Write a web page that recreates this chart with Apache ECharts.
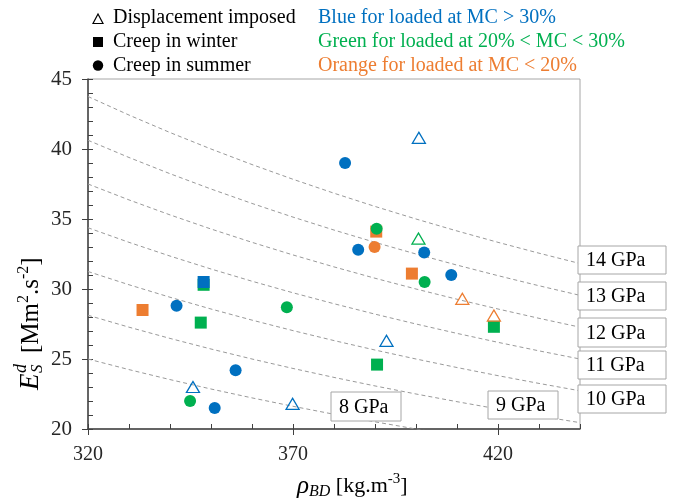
<!DOCTYPE html>
<html><head><meta charset="utf-8">
<script src="https://cdn.jsdelivr.net/npm/echarts@6/dist/echarts.min.js"></script>
<style>html,body{margin:0;padding:0;background:#fff}#c{width:676px;height:498px}</style>
</head><body><div id="c"></div>
<script>
// ---- axis ticks ----
const xTicks = [320, 370, 420];
const yTicks = [20, 25, 30, 35, 40, 45];
// ---- iso-stiffness curves (GPa) : E_S = E / rho ----
const stiffnessGPa = [8, 9, 10, 11, 12, 13, 14];
const curveRho = [320, 330, 340, 350, 360, 370, 380, 390, 400, 410, 420, 430, 440];
// ---- Displacement imposed (triangles) [rho, E_S] ----
const dispBlue = [[345.6, 23.0], [369.9, 21.8], [392.8, 26.3], [400.7, 40.8]];
const dispGreen = [[400.6, 33.6]];
const dispOrange = [[411.3, 29.3], [419.0, 28.1]];
// ---- Creep in winter (squares) ----
const winterGreen = [[347.5, 27.6], [348.2, 30.3], [390.5, 24.6], [419.0, 27.3]];
const winterOrange = [[333.3, 28.5], [399.0, 31.1], [390.3, 34.1]];
const winterBlue = [[348.2, 30.5]];
// ---- Creep in summer (circles) ----
const summerBlue = [[341.6, 28.8], [350.9, 21.5], [356.0, 24.2], [382.7, 39.0], [385.9, 32.8], [402.0, 32.6], [408.6, 31.0]];
const summerGreen = [[344.9, 22.0], [368.5, 28.7], [390.4, 34.3], [402.1, 30.5]];
const summerOrange = [[389.9, 33.0]];

const BLUE = '#0070C0', GREEN = '#00B050', ORANGE = '#ED7D31';
const FONT = 'Liberation Serif';
const AX = '#404040';

const chart = echarts.init(document.getElementById('c'), null, {renderer: 'canvas'});

const curveSeries = stiffnessGPa.map(E => ({
  type: 'line', name: E + ' GPa', silent: true, symbol: 'none', z: 1,
  lineStyle: {color: '#9a9a9a', width: 1, type: [4, 3]},
  data: curveRho.map(r => [r, E * 1000 / r])
}));

function sq(data, color) {
  return {type: 'scatter', symbol: 'rect', symbolSize: 12, z: 3, itemStyle: {color: color, opacity: 1}, data: data};
}
function ci(data, color) {
  return {type: 'scatter', symbol: 'circle', symbolSize: 12, z: 4, itemStyle: {color: color, opacity: 1}, data: data};
}
function tri(data, color) {
  return {type: 'scatter', symbol: 'triangle', symbolSize: [13, 11], z: 5,
    itemStyle: {color: 'rgba(255,255,255,0)', borderColor: color, borderWidth: 1.3, opacity: 1}, data: data};
}

// label boxes for curves
const boxDefs = [
  {x: 578, y: 246, w: 88, h: 28},
  {x: 578, y: 282, w: 88, h: 28},
  {x: 578, y: 318, w: 88, h: 29},
  {x: 578, y: 351, w: 88, h: 28},
  {x: 578, y: 385, w: 88, h: 28},
  {x: 488, y: 391, w: 70, h: 28},
  {x: 331, y: 392, w: 70, h: 29}
];
const boxLabels = [14, 13, 12, 11, 10, 9, 8];
const boxGraphics = [];
boxDefs.forEach((b, i) => {
  boxGraphics.push({type: 'rect', shape: {x: b.x, y: b.y, width: b.w, height: b.h},
    style: {fill: '#fff', stroke: '#a6a6a6', lineWidth: 1}, z: 100});
  boxGraphics.push({type: 'text', x: b.x + 8, y: b.y + b.h / 2 + 1, z: 101,
    style: {text: boxLabels[i] + ' GPa', font: '20px "Liberation Serif"', fill: '#000', verticalAlign: 'middle', align: 'left'}});
});

const LF = '20px "Liberation Serif"';
const legendGraphics = [
  {type: 'polygon', shape: {points: [[93, 23.5], [103, 23.5], [98, 14]]}, style: {fill: 'none', stroke: '#000', lineWidth: 1.2}},
  {type: 'rect', shape: {x: 93, y: 37, width: 10, height: 10}, style: {fill: '#000'}},
  {type: 'circle', shape: {cx: 98, cy: 65.5, r: 5.2}, style: {fill: '#000'}},
  {type: 'text', x: 113, y: 18, style: {text: 'Displacement imposed', font: LF, fill: '#000', verticalAlign: 'middle'}},
  {type: 'text', x: 113, y: 42, style: {text: 'Creep in winter', font: LF, fill: '#000', verticalAlign: 'middle'}},
  {type: 'text', x: 113, y: 66, style: {text: 'Creep in summer', font: LF, fill: '#000', verticalAlign: 'middle'}},
  {type: 'text', x: 318, y: 18, style: {text: 'Blue for loaded at MC > 30%', font: LF, fill: BLUE, verticalAlign: 'middle'}},
  {type: 'text', x: 318, y: 42, style: {text: 'Green for loaded at 20% < MC < 30%', font: LF, fill: GREEN, verticalAlign: 'middle'}},
  {type: 'text', x: 318, y: 66, style: {text: 'Orange for loaded at MC < 20%', font: LF, fill: ORANGE, verticalAlign: 'middle'}}
];

const yTitle = {
  type: 'group', x: 31, y: 390, rotation: Math.PI / 2,
  children: [
    {type: 'text', x: 0, y: 0, style: {text: 'E', font: 'italic 27px "Liberation Serif"', fill: '#000', verticalAlign: 'middle'}},
    {type: 'text', x: 17, y: -10, style: {text: 'd', font: 'italic 18px "Liberation Serif"', fill: '#000', verticalAlign: 'middle'}},
    {type: 'text', x: 17, y: 7, style: {text: 'S', font: 'italic 17px "Liberation Serif"', fill: '#000', verticalAlign: 'middle'}},
    {type: 'text', x: 37, y: 0, style: {text: '[Mm{sup|2}.s{sup|-2}]', font: '25px "Liberation Serif"', fill: '#000', verticalAlign: 'middle',
      rich: {sup: {fontSize: 16, fontFamily: FONT, verticalAlign: 'top', lineHeight: 30}}, lineHeight: 30}}
  ]
};

const xTitle = {
  type: 'text', x: 297, y: 486,
  style: {text: '{r|ρ}{sub|BD} [kg.m{sup|-3}]', font: '22px "Liberation Serif"', fill: '#000', verticalAlign: 'middle', lineHeight: 28,
    rich: {
      r: {fontSize: 25, fontStyle: 'italic', fontFamily: FONT, lineHeight: 28},
      sub: {fontSize: 16, fontStyle: 'italic', fontFamily: FONT, verticalAlign: 'bottom', lineHeight: 28},
      sup: {fontSize: 15, fontFamily: FONT, verticalAlign: 'top', lineHeight: 28}
    }}
};

chart.setOption({
  animation: false,
  backgroundColor: '#fff',
  grid: {left: 88, right: 96, top: 79, bottom: 69, show: true, borderColor: '#a6a6a6', borderWidth: 1, backgroundColor: 'transparent'},
  xAxis: [
    {type: 'value', min: 320, max: 440, interval: 10, position: 'bottom',
      axisLine: {show: true, lineStyle: {color: AX, width: 1.5}},
      axisTick: {show: true, inside: true, length: 5, lineStyle: {color: AX, width: 1}},
      axisLabel: {show: false}, splitLine: {show: false}},
    {type: 'value', min: 320, max: 440, interval: 10, position: 'bottom', offset: 0,
      axisLine: {show: false},
      axisTick: {show: true, inside: false, length: 6, customValues: xTicks, lineStyle: {color: AX, width: 1}},
      axisLabel: {show: true, customValues: xTicks, margin: 16, fontSize: 20, fontFamily: FONT, color: '#262626'},
      splitLine: {show: false}}
  ],
  yAxis: [
    {type: 'value', min: 20, max: 45, interval: 1, position: 'left',
      axisLine: {show: true, lineStyle: {color: AX, width: 1.5}},
      axisTick: {show: true, inside: true, length: 5, lineStyle: {color: AX, width: 1}},
      axisLabel: {show: false}, splitLine: {show: false}},
    {type: 'value', min: 20, max: 45, interval: 5, position: 'left', offset: 0,
      axisLine: {show: false},
      axisTick: {show: true, inside: false, length: 6, customValues: yTicks, lineStyle: {color: AX, width: 1}},
      axisLabel: {show: true, customValues: yTicks, margin: 16, fontSize: 21, fontFamily: FONT, color: '#262626'},
      splitLine: {show: false}}
  ],
  series: [
    ...curveSeries,
    sq(winterGreen, GREEN), sq(winterOrange, ORANGE), sq(winterBlue, BLUE),
    ci(summerBlue, BLUE), ci(summerGreen, GREEN), ci(summerOrange, ORANGE),
    tri(dispBlue, BLUE), tri(dispGreen, GREEN), tri(dispOrange, ORANGE)
  ],
  graphic: [...legendGraphics, ...boxGraphics, yTitle, xTitle]
});
</script></body></html>
